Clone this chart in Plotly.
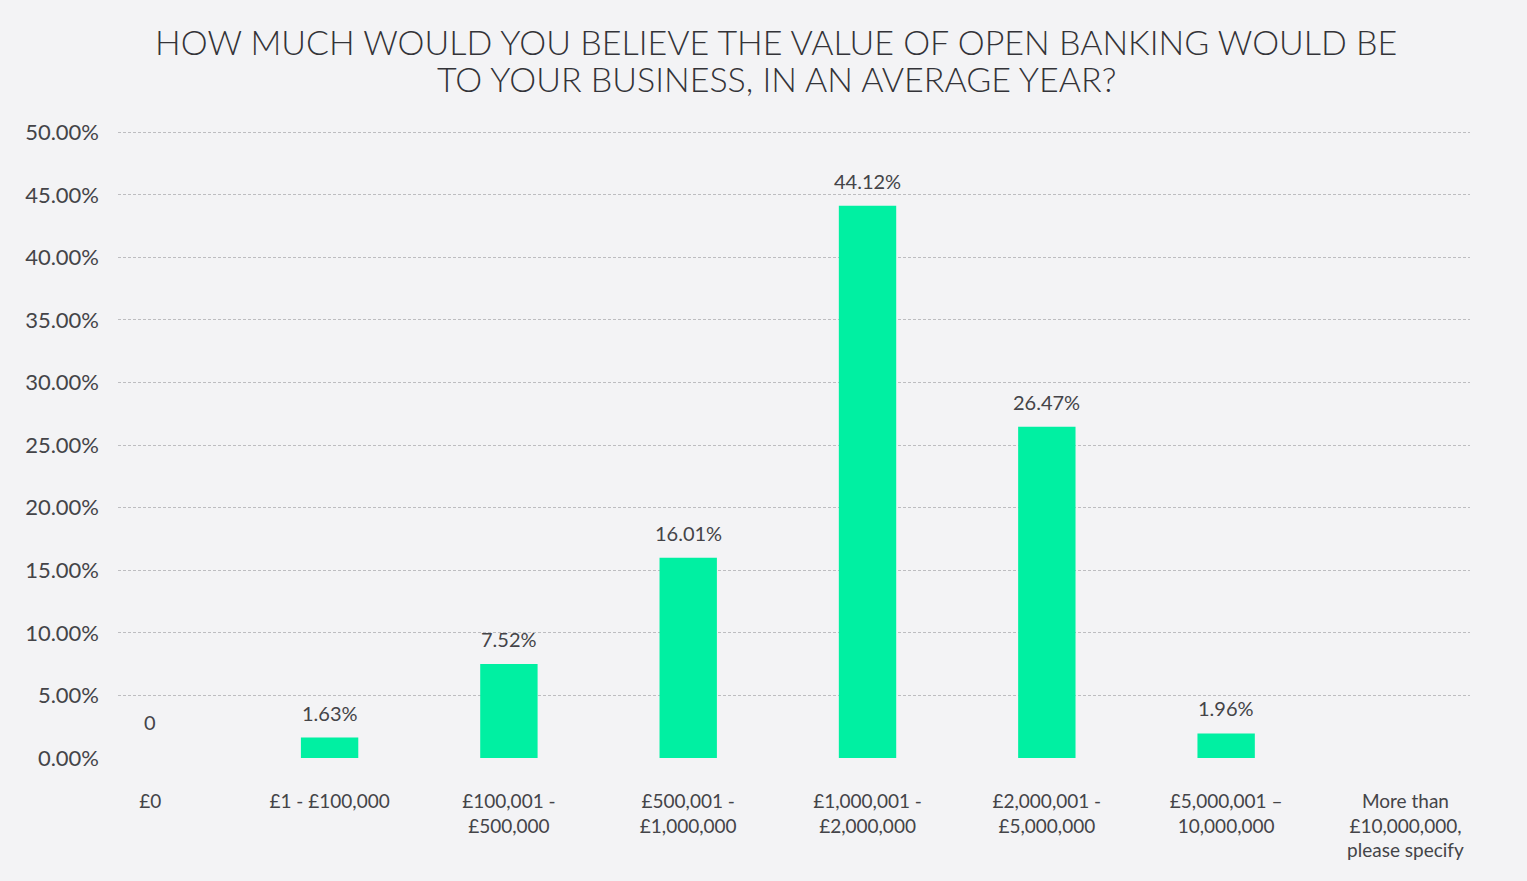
import plotly.graph_objects as go

categories = ["£0", "£1 - £100,000", "£100,001 -<br>£500,000", "£500,001 -<br>£1,000,000",
              "£1,000,001 -<br>£2,000,000", "£2,000,001 -<br>£5,000,000",
              "£5,000,001 –<br>10,000,000", "More than<br>£10,000,000,<br>please specify"]
values = [0, 1.63, 7.52, 16.01, 44.12, 26.47, 1.96, 0]
value_labels = ["0", "1.63%", "7.52%", "16.01%", "44.12%", "26.47%", "1.96%", ""]
y_ticks = [0, 5, 10, 15, 20, 25, 30, 35, 40, 45, 50]
title_lines = ["HOW MUCH WOULD YOU BELIEVE THE VALUE OF OPEN BANKING WOULD BE",
               "TO YOUR BUSINESS, IN AN AVERAGE YEAR?"]

FONT = "Lato"
TXT = "#444448"

fig = go.Figure()
fig.add_trace(go.Bar(x=list(range(len(categories))), y=values, width=0.32,
                     marker=dict(color="#00F0A2", line=dict(width=0)),
                     hoverinfo="skip"))

for i, (v, lab) in enumerate(zip(values, value_labels)):
    if lab:
        fig.add_annotation(x=i, y=v, text=lab, showarrow=False, yanchor="bottom",
                           yshift=11 if v > 0 else 22,
                           font=dict(family=FONT, size=20, color=TXT))

for ty, line in zip([1.142, 1.0845], title_lines):
    fig.add_annotation(xref="paper", yref="paper", x=0.487, y=ty, xanchor="center", yanchor="middle",
                       text=line, showarrow=False,
                       font=dict(family=FONT, size=34, color="#333338", weight=300))

fig.update_layout(
    width=1527, height=881,
    paper_bgcolor="#F3F3F5", plot_bgcolor="#F3F3F5",
    margin=dict(l=118, r=57, t=131, b=123),
    showlegend=False,
    font=dict(family=FONT, color=TXT),
)
fig.update_xaxes(tickmode="array", tickvals=list(range(len(categories))), ticktext=categories,
                 range=[-0.18, 7.36], showgrid=False, zeroline=False, showline=False,
                 ticks="", tickfont=dict(family=FONT, size=19, color=TXT), ticklabelstandoff=30)
fig.update_yaxes(range=[0, 50.1], tickmode="array", tickvals=y_ticks,
                 ticktext=[f"{t:.2f}%" for t in y_ticks],
                 showgrid=True, gridcolor="#BDBDC0", griddash="3px,2px", gridwidth=1,
                 zeroline=False, showline=False, ticks="",
                 tickfont=dict(family=FONT, size=22, color=TXT), ticklabelstandoff=18)

fig.write_html("out.html")
